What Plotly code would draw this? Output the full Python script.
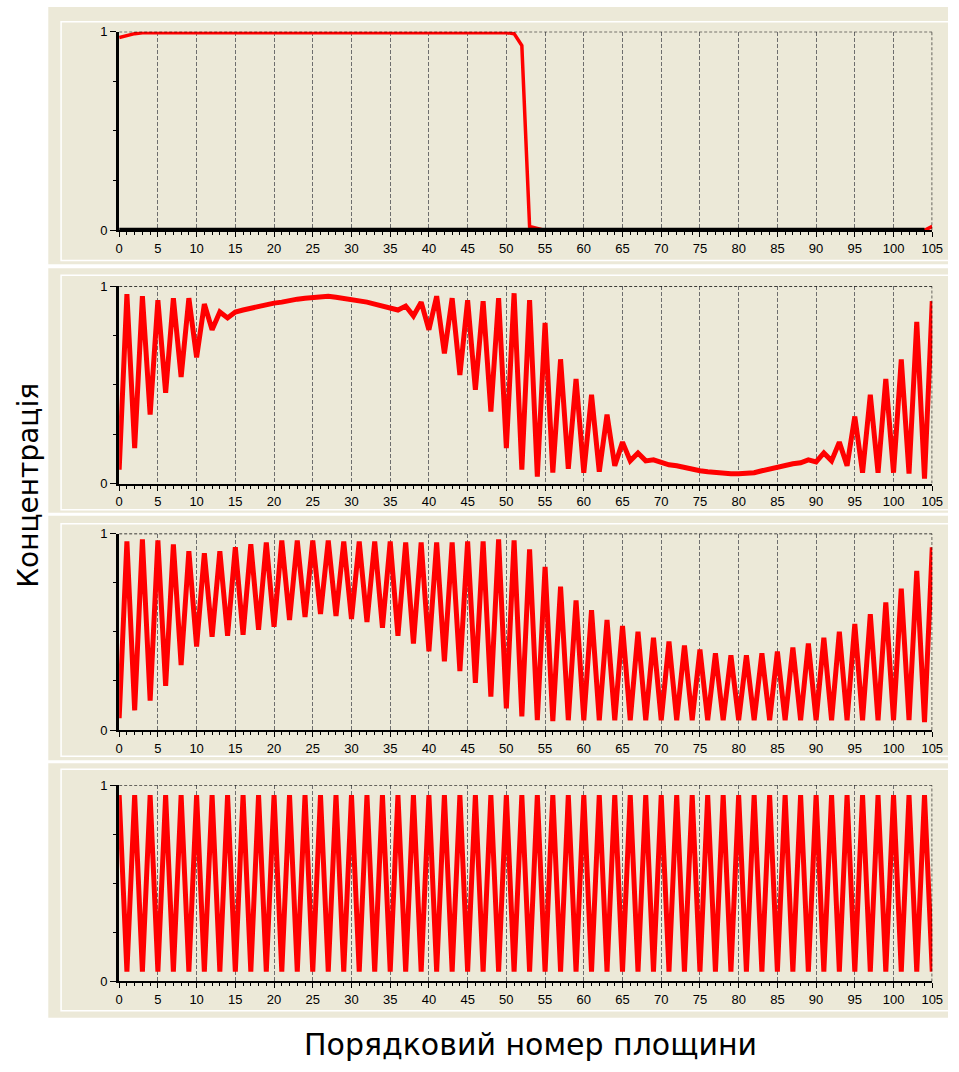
import plotly.graph_objects as go

W, H = 959, 1072

# Plane numbers 0..105
planes = list(range(106))

# Concentration per plane, panel 1 (top)
conc_1 = [
    0.97, 0.98, 0.99, 0.995, 0.995, 0.995, 0.995, 0.995, 0.995, 0.995,
    0.995, 0.995, 0.995, 0.995, 0.995, 0.995, 0.995, 0.995, 0.995, 0.995,
    0.995, 0.995, 0.995, 0.995, 0.995, 0.995, 0.995, 0.995, 0.995, 0.995,
    0.995, 0.995, 0.995, 0.995, 0.995, 0.995, 0.995, 0.995, 0.995, 0.995,
    0.995, 0.995, 0.995, 0.995, 0.995, 0.995, 0.995, 0.995, 0.995, 0.995,
    0.995, 0.99, 0.93, 0.02, 0.01, 0.0, 0.0, 0.0, 0.0, 0.0,
    0.0, 0.0, 0.0, 0.0, 0.0, 0.0, 0.0, 0.0, 0.0, 0.0,
    0.0, 0.0, 0.0, 0.0, 0.0, 0.0, 0.0, 0.0, 0.0, 0.0,
    0.0, 0.0, 0.0, 0.0, 0.0, 0.0, 0.0, 0.0, 0.0, 0.0,
    0.0, 0.0, 0.0, 0.0, 0.0, 0.0, 0.0, 0.0, 0.0, 0.0,
    0.0, 0.0, 0.0, 0.0, 0.0, 0.02,
]

# Panel 2
conc_2 = [
    0.07, 0.96, 0.18, 0.95, 0.35, 0.93, 0.46, 0.94, 0.54, 0.94,
    0.64, 0.91, 0.78, 0.87, 0.84, 0.87, 0.88, 0.89, 0.90, 0.905,
    0.915, 0.92, 0.93, 0.935, 0.94, 0.945, 0.95, 0.95, 0.945, 0.94,
    0.935, 0.93, 0.92, 0.91, 0.90, 0.89, 0.88, 0.90, 0.85, 0.92,
    0.78, 0.95, 0.66, 0.94, 0.55, 0.93, 0.475, 0.925, 0.365, 0.94,
    0.18, 0.965, 0.07, 0.93, 0.035, 0.815, 0.055, 0.63, 0.075, 0.53,
    0.055, 0.45, 0.06, 0.35, 0.09, 0.21, 0.115, 0.155, 0.115, 0.12,
    0.105, 0.095, 0.09, 0.08, 0.07, 0.065, 0.06, 0.055, 0.05, 0.05,
    0.05, 0.05, 0.055, 0.065, 0.075, 0.085, 0.09, 0.10, 0.105, 0.12,
    0.11, 0.155, 0.115, 0.21, 0.09, 0.34, 0.055, 0.45, 0.055, 0.53,
    0.055, 0.63, 0.05, 0.82, 0.025, 0.925,
]

# Panel 3
conc_3 = [
    0.06, 0.96, 0.10, 0.97, 0.15, 0.965, 0.225, 0.945, 0.33, 0.91,
    0.425, 0.90, 0.475, 0.91, 0.48, 0.93, 0.485, 0.945, 0.51, 0.955,
    0.525, 0.965, 0.56, 0.965, 0.575, 0.965, 0.59, 0.965, 0.58, 0.96,
    0.565, 0.96, 0.55, 0.96, 0.52, 0.96, 0.48, 0.955, 0.44, 0.955,
    0.40, 0.955, 0.35, 0.955, 0.30, 0.96, 0.24, 0.96, 0.17, 0.97,
    0.11, 0.965, 0.07, 0.92, 0.05, 0.83, 0.045, 0.73, 0.05, 0.66,
    0.05, 0.61, 0.05, 0.56, 0.05, 0.53, 0.05, 0.50, 0.05, 0.47,
    0.05, 0.45, 0.05, 0.43, 0.05, 0.41, 0.05, 0.39, 0.05, 0.38,
    0.05, 0.38, 0.05, 0.39, 0.05, 0.40, 0.05, 0.42, 0.05, 0.44,
    0.05, 0.47, 0.05, 0.50, 0.05, 0.54, 0.05, 0.59, 0.05, 0.65,
    0.05, 0.72, 0.05, 0.81, 0.04, 0.93,
]

# Panel 4 (bottom)
conc_4 = [
    0.95, 0.05, 0.95, 0.05, 0.95, 0.05, 0.95, 0.05, 0.95, 0.05,
    0.95, 0.05, 0.95, 0.05, 0.95, 0.05, 0.95, 0.05, 0.95, 0.05,
    0.95, 0.05, 0.95, 0.05, 0.95, 0.05, 0.95, 0.05, 0.95, 0.05,
    0.95, 0.05, 0.95, 0.05, 0.95, 0.05, 0.95, 0.05, 0.95, 0.05,
    0.95, 0.05, 0.95, 0.05, 0.95, 0.05, 0.95, 0.05, 0.95, 0.05,
    0.95, 0.05, 0.95, 0.05, 0.95, 0.05, 0.95, 0.05, 0.95, 0.05,
    0.95, 0.05, 0.95, 0.05, 0.95, 0.05, 0.95, 0.05, 0.95, 0.05,
    0.95, 0.05, 0.95, 0.05, 0.95, 0.05, 0.95, 0.05, 0.95, 0.05,
    0.95, 0.05, 0.95, 0.05, 0.95, 0.05, 0.95, 0.05, 0.95, 0.05,
    0.95, 0.05, 0.95, 0.05, 0.95, 0.05, 0.95, 0.05, 0.95, 0.05,
    0.95, 0.05, 0.95, 0.05, 0.95, 0.05,
]

series = [conc_1, conc_2, conc_3, conc_4]
line_widths = [3.5, 5, 5, 5]

x_ticks = list(range(0, 106, 5))
x_ticktext = [str(v) for v in x_ticks]
y_ticks = [0, 1]
y_ticktext = ["0", "1"]

y_title = "Концентрація"
x_title = "Порядковий номер площини"

BEIGE = "#ECE9D8"
RED = "#FF0000"
FONT = "Liberation Sans"

def fx(p):
    return p / W

def fy(p):
    return 1 - p / H

# plot-area pixel extents of each panel (top, bottom)
X_LEFT, X_RIGHT = 117, 943
panel_rows = [(25, 226.5), (283.3, 483.3), (534, 733.3), (789.3, 988.3)]
# outer window boxes and inner light frames
outer_boxes = [(0, 261), (265, 513), (516, 764), (767, 1025)]
inner_frames = [(15, 257), (272, 510), (524, 760), (773, 1018)]

fig = go.Figure()
shapes = []

for i, (vals, lw, (ytop, ybot)) in enumerate(zip(series, line_widths, panel_rows)):
    n = i + 1
    xa = "x" if n == 1 else f"x{n}"
    ya = "y" if n == 1 else f"y{n}"
    fig.add_trace(go.Scatter(
        x=planes, y=vals, mode="lines",
        line=dict(color=RED, width=lw),
        xaxis=xa, yaxis=ya, showlegend=False, hoverinfo="skip",
    ))
    xkey = "xaxis" if n == 1 else f"xaxis{n}"
    ykey = "yaxis" if n == 1 else f"yaxis{n}"
    fig.layout[xkey] = dict(
        domain=[fx(X_LEFT), fx(X_RIGHT)], anchor=ya, range=[0, 105],
        tickmode="array", tickvals=x_ticks, ticktext=x_ticktext,
        ticks="outside", ticklen=5, tickwidth=1, tickcolor="black",
        minor=dict(ticks="outside", dtick=1, tick0=0, ticklen=3,
                   tickwidth=1, tickcolor="black", showgrid=False),
        showgrid=True, gridcolor="#6E6E6E", gridwidth=1, griddash="4px,2px",
        showline=True, linecolor="black", linewidth=2,
        zeroline=False, layer="above traces",
        tickfont=dict(family=FONT, size=13, color="black"),
        fixedrange=True,
    )
    fig.layout[ykey] = dict(
        domain=[fy(ybot), fy(ytop)], anchor=xa, range=[0, 1],
        tickmode="array", tickvals=y_ticks, ticktext=y_ticktext,
        ticks="outside", ticklen=6, tickwidth=1, tickcolor="black",
        minor=dict(ticks="outside", dtick=0.25, tick0=0, ticklen=3,
                   tickwidth=1, tickcolor="black", showgrid=False),
        showgrid=False, showline=True, linecolor="black", linewidth=3,
        zeroline=False, layer="above traces",
        tickfont=dict(family=FONT, size=13, color="black"),
        fixedrange=True,
    )
    # dashed top and right borders of the plot area
    shapes.append(dict(type="line", xref=xa, yref=ya, x0=0, x1=105, y0=1, y1=1,
                       line=dict(color="black", width=1.2, dash="3px,2px"), layer="above"))
    shapes.append(dict(type="line", xref=xa, yref=ya, x0=105, x1=105, y0=0, y1=1,
                       line=dict(color="black", width=1.2, dash="3px,2px"), layer="above"))

# the top panel's baseline is drawn heavier, over the trace
shapes.append(dict(type="line", xref="x", yref="y", x0=0, x1=104, y0=0, y1=0,
                   line=dict(color="black", width=5), layer="above"))

# window backgrounds and frames
for (t, b), (ft, fb) in zip(outer_boxes, inner_frames):
    shapes.append(dict(type="rect", xref="paper", yref="paper",
                       x0=fx(45), x1=fx(W), y0=fy(b), y1=fy(t),
                       fillcolor=BEIGE, line=dict(width=0), layer="below"))
    shapes.append(dict(type="rect", xref="paper", yref="paper",
                       x0=fx(58), x1=fx(W + 5), y0=fy(fb), y1=fy(ft),
                       fillcolor="rgba(0,0,0,0)", line=dict(color="#FFFFFF", width=1.5),
                       layer="below"))

fig.update_layout(
    width=W, height=H,
    margin=dict(l=0, r=0, t=0, b=0),
    paper_bgcolor="white",
    plot_bgcolor="rgba(0,0,0,0)",
    shapes=shapes,
    annotations=[
        dict(text=y_title, xref="paper", yref="paper", x=fx(25), y=fy(485),
             textangle=-90, showarrow=False, xanchor="center", yanchor="middle",
             font=dict(family="DejaVu Sans", size=28, color="black")),
        dict(text=x_title, xref="paper", yref="paper", x=fx(535), y=fy(1052),
             showarrow=False, xanchor="center", yanchor="middle",
             font=dict(family="DejaVu Sans", size=30, color="black")),
    ],
)

fig.write_html("out.html")
